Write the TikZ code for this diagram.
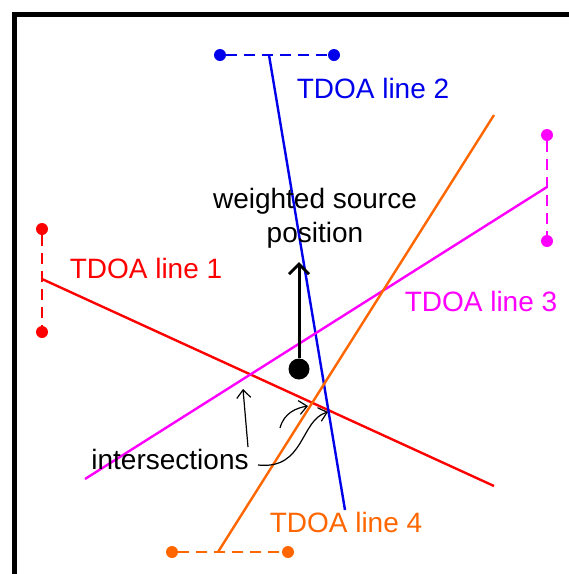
\documentclass[tikz,border=0pt]{standalone}
\usepackage{fontspec}
\setmainfont{Liberation Sans}
\usepackage{tikz}
\usetikzlibrary{arrows.meta,calc}

\definecolor{tdoared}{RGB}{255,0,0}
\definecolor{tdoablue}{RGB}{0,0,235}
\definecolor{tdoamag}{RGB}{255,0,255}
\definecolor{tdoaorange}{RGB}{255,102,0}

\begin{document}
\begin{tikzpicture}[x=1pt, y=-1pt, every node/.style={font=\fontsize{28}{33}\selectfont, inner sep=0pt}, sensor/.style={circle, fill, minimum size=12pt, inner sep=0pt}, baseline/.style={dashed, dash pattern=on 11pt off 7pt, line width=1.4pt}, tdoa/.style={line width=2.4pt}, note/.style={-{Straight Barb[length=8pt,width=14pt]}, line width=1.2pt}]
\useasboundingbox (0,0) rectangle (569,574);
% axes frame
\draw[line width=5pt] (14,574) -- (14,14) -- (569,14);
% sensor pairs
\node[sensor, tdoared] (r1) at (42,229) {};
\node[sensor, tdoared] (r2) at (42,332) {};
\node[sensor, tdoablue] (b1) at (220,55) {};
\node[sensor, tdoablue] (b2) at (334,55) {};
\node[sensor, tdoamag] (m1) at (547,135) {};
\node[sensor, tdoamag] (m2) at (547,241) {};
\node[sensor, tdoaorange] (o1) at (172,552) {};
\node[sensor, tdoaorange] (o2) at (288,552) {};
\draw[baseline, tdoared] (r1) -- (r2);
\draw[baseline, tdoablue] (b1) -- (b2);
\draw[baseline, tdoamag] (m1) -- (m2);
\draw[baseline, tdoaorange] (o1) -- (o2);
% TDOA lines
\coordinate (redA) at (42,279);
\coordinate (redB) at (494,486);
\coordinate (blueA) at (269,55);
\coordinate (blueB) at (345,510);
\coordinate (magA) at (547,187);
\coordinate (magB) at (85,479);
\coordinate (orA) at (218,552);
\coordinate (orB) at (494,115);
\draw[tdoa, tdoared] (redA) -- (redB);
\draw[tdoa, tdoablue] (blueA) -- (blueB);
\draw[tdoa, tdoamag] (magA) -- (magB);
\draw[tdoa, tdoaorange] (orA) -- (orB);
% labels
\node[tdoared] (lab1) at (146,268) {TDOA line 1};
\node[tdoablue] (lab2) at (373,88) {TDOA line 2};
\node[tdoamag] (lab3) at (481,301) {TDOA line 3};
\node[tdoaorange] (lab4) at (346,522) {TDOA line 4};
% weighted source
\node[circle, fill=black, minimum size=21pt] (src) at (299,369) {};
\node[align=center, font=\fontsize{28}{34}\selectfont] (srclab) at (315,218) {weighted source\\position};
\draw[-{Straight Barb[length=10pt,width=20pt]}, line width=3pt] (src.north) -- (299,262);
% intersections
\node (isec) at (170,459) {intersections};
\coordinate (x1) at (243,389);
\coordinate (x2) at (308,406);
\coordinate (x3) at (328,412);
\draw[note] (248,447) -- (x1);
\draw[note] (280,428) .. controls (284,413) and (296,408) .. (x2);
\draw[note] (258,465) .. controls (305,470) and (300,420) .. (x3);
\end{tikzpicture}
\end{document}
